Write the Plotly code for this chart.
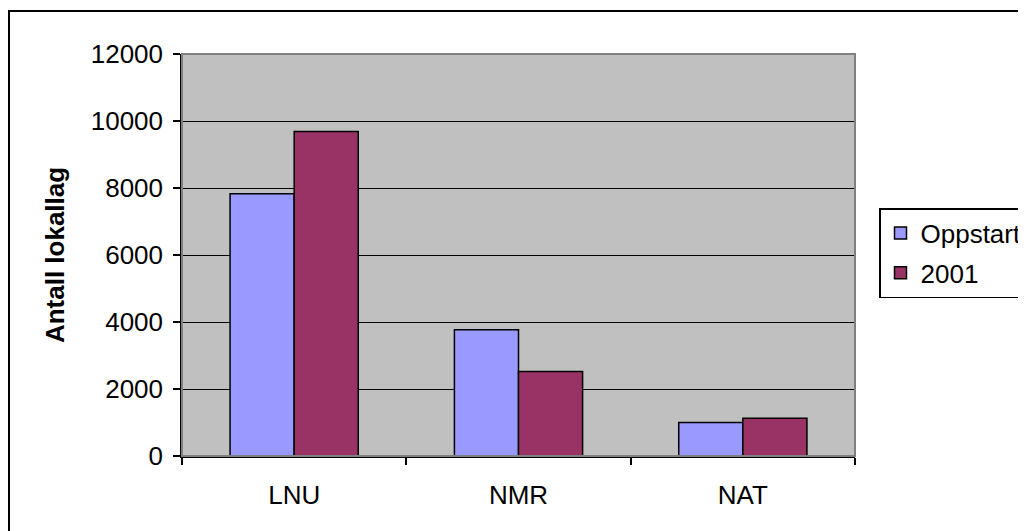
import plotly.graph_objects as go

categories = ["LNU", "NMR", "NAT"]
oppstart = [7830, 3770, 1000]
y2001 = [9690, 2520, 1130]
series_names = ["Oppstart", "2001"]
y_ticks = [0, 2000, 4000, 6000, 8000, 10000, 12000]
y_tick_labels = ["0", "2000", "4000", "6000", "8000", "10000", "12000"]

FONT = "Arial, 'Liberation Sans', sans-serif"
OFF = 8  # page body margin

L, R, T, B = 182 - OFF, 855 - OFF, 54 - OFF, 456 - OFF
W, H = 1026, 531

fig = go.Figure()
fig.add_trace(go.Bar(x=categories, y=oppstart, name=series_names[0], legendgroup="a",
                     marker=dict(color="#9999FF", line=dict(color="black", width=1.5))))
fig.add_trace(go.Bar(x=categories, y=y2001, name=series_names[1], legendgroup="b",
                     marker=dict(color="#993366", line=dict(color="black", width=1.5))))

pw, ph = R - L, B - T

fig.update_layout(
    width=W, height=H,
    margin=dict(l=L, r=W - R, t=T, b=H - B),
    paper_bgcolor="white",
    plot_bgcolor="#C0C0C0",
    barmode="group",
    bargap=0.4286,
    bargroupgap=0,
    font=dict(family=FONT, size=26, color="black"),
    showlegend=True,
    legend=dict(
        x=(879 - OFF) / W, y=(456 - 253) / 402, xref="container", yref="paper",
        xanchor="left", yanchor="middle",
        bordercolor="black", borderwidth=1.5,
        bgcolor="white",
        tracegroupgap=3,
        font=dict(family=FONT, size=26, color="black"),
    ),
    xaxis=dict(
        type="category",
        tickson="boundaries",
        ticks="outside", ticklen=7, tickwidth=1.5, tickcolor="black",
        showline=True, linecolor="black", linewidth=1.5,
        showgrid=False,
        tickfont=dict(size=26),
        ticklabelstandoff=15,
    ),
    yaxis=dict(
        range=[0, 12000],
        tickvals=y_ticks,
        ticktext=y_tick_labels,
        ticks="outside", ticklen=7, tickwidth=1.5, tickcolor="black",
        showline=True, linecolor="black", linewidth=1.5,
        showgrid=True, gridcolor="black", gridwidth=1,
        zeroline=False,
        tickfont=dict(size=26),
        ticklabelstandoff=5,
        title=dict(text="<b>Antall lokallag</b>", font=dict(size=26), standoff=19),
    ),
    shapes=[
        dict(type="rect", xref="paper", yref="paper", x0=0, y0=0, x1=1, y1=1,
             line=dict(color="#808080", width=2), layer="above"),
        dict(type="rect", xref="paper", yref="paper",
             x0=(1 - L) / pw, y0=-0.5, x1=1.5, y1=1 + (T - 3) / ph,
             line=dict(color="black", width=2), layer="above"),
    ],
)

fig.write_html("out.html")
